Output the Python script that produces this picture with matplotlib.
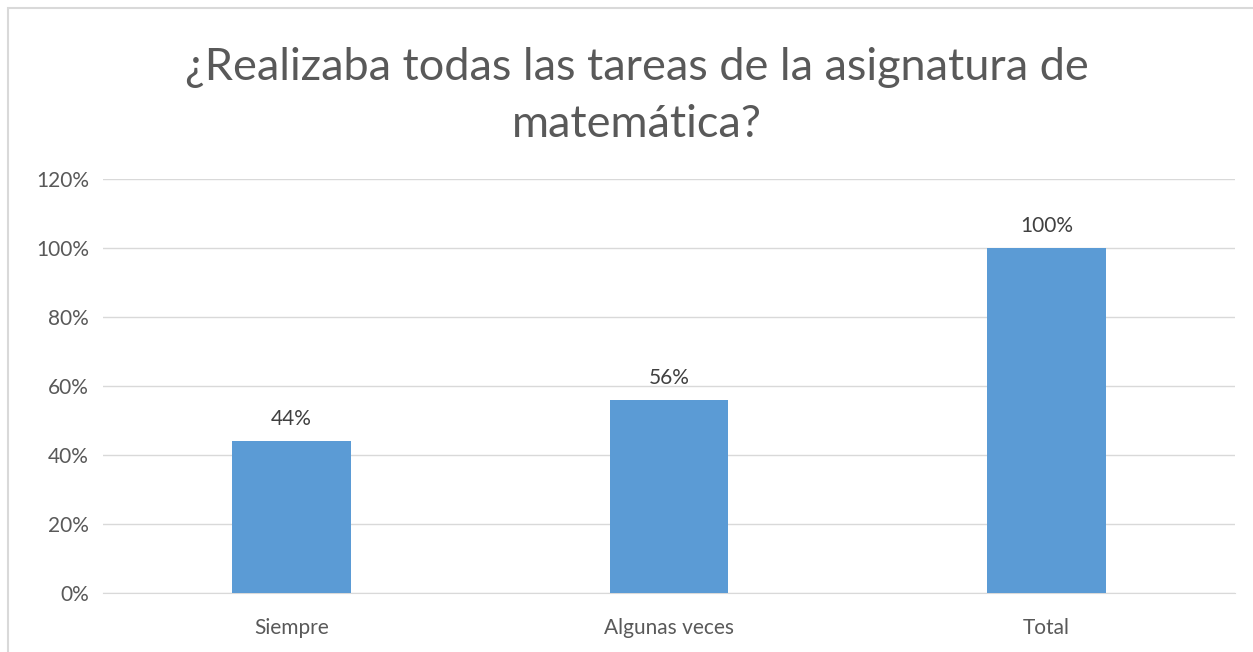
import numpy as np
import matplotlib.pyplot as plt
from matplotlib.patches import Rectangle

# datos
categorias = ["Siempre", "Algunas veces", "Total"]
valores = [44, 56, 100]
etiquetas = ["44%", "56%", "100%"]
ticks_y = [0, 20, 40, 60, 80, 100, 120]

plt.rcParams['font.family'] = ['Lato', 'DejaVu Sans']

fig = plt.figure(figsize=(12.53, 6.52), dpi=100)
ax = fig.add_axes([103/1253, 1-593/652, (1235-103)/1253, (593-179)/652])

x = np.arange(len(categorias))
ax.bar(x, valores, width=0.314, color="#5b9bd5", zorder=3)

for xi, v, t in zip(x, valores, etiquetas):
    ax.text(xi, v + 3.5, t, ha="center", va="bottom", fontsize=15, color="#404040")

ax.set_xlim(-0.5, 2.5)
ax.set_ylim(0, 120)
ax.set_yticks(ticks_y)
ax.set_yticklabels([str(t) + "%" for t in ticks_y], fontsize=15, color="#595959")
ax.set_xticks(x)
ax.set_xticklabels(categorias, fontsize=15, color="#595959")
ax.tick_params(axis="x", length=0, pad=18)
ax.tick_params(axis="y", length=0, pad=10)
ax.grid(axis="y", color="#d9d9d9", linewidth=1, zorder=0)
for s in ["top", "right", "left"]:
    ax.spines[s].set_visible(False)
ax.spines["bottom"].set_color("#d9d9d9")

fig.text(0.508, 1-96/652, "¿Realizaba todas las tareas de la asignatura de\nmatemática?",
         ha="center", va="center", fontsize=32.5, color="#595959", linespacing=1.5)

# borde del grafico
fig.patches.append(Rectangle((8/1253, -0.05), 1.1, 1-8/652+0.05, transform=fig.transFigure,
                             fill=False, edgecolor="#d9d9d9", linewidth=1.5))

fig.savefig("out.png", dpi=100)
